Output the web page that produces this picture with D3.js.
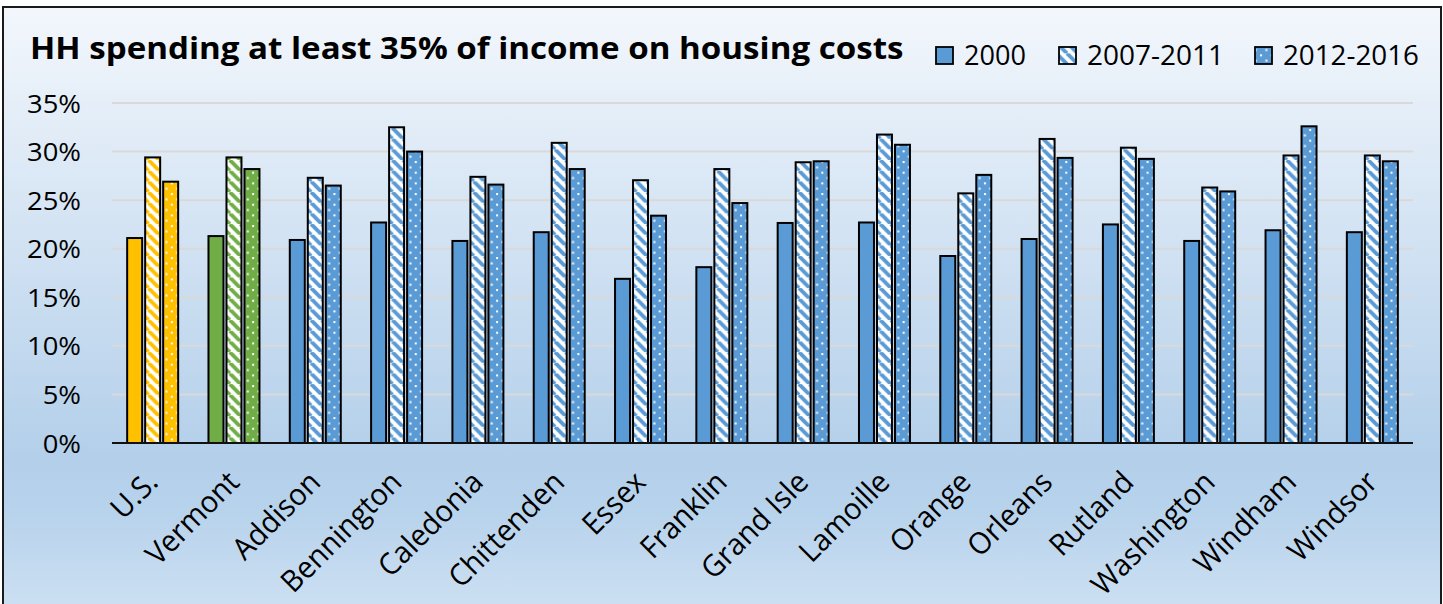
<!DOCTYPE html>
<html><head><meta charset="utf-8">
<script src="https://cdn.jsdelivr.net/npm/d3@7"></script>
<style>body{margin:0;background:#fff;} svg{display:block}</style>
</head><body>
<svg id="c" width="1443" height="604"></svg>
<script>
const categories = ["U.S.","Vermont","Addison","Bennington","Caledonia","Chittenden","Essex","Franklin","Grand Isle","Lamoille","Orange","Orleans","Rutland","Washington","Windham","Windsor"];
const seriesNames = ["2000","2007-2011","2012-2016"];
const v2000 = [21.1,21.3,20.9,22.7,20.8,21.7,16.9,18.1,22.65,22.7,19.25,21.0,22.5,20.8,21.9,21.7];
const v2007 = [29.4,29.4,27.3,32.5,27.4,30.9,27.05,28.2,28.9,31.75,25.7,31.3,30.4,26.3,29.6,29.6];
const v2012 = [26.9,28.2,26.5,30.0,26.6,28.2,23.4,24.7,29.0,30.7,27.6,29.35,29.25,25.9,32.6,29.0];
const yTicks = [0,5,10,15,20,25,30,35];
const titleText = "HH spending at least 35% of income on housing costs";

const seriesValues = [v2000, v2007, v2012];
const palette = {orange:"#FFC000", green:"#70AD47", blue:"#5B9BD5"};
const catColor = i => i === 0 ? "orange" : (i === 1 ? "green" : "blue");
const FONT = "'Open Sans', 'Noto Sans', sans-serif";

const svg = d3.select("#c");
const defs = svg.append("defs");

const grad = defs.append("linearGradient").attr("id","bg").attr("x1",0).attr("y1",0).attr("x2",0).attr("y2",1);
[[0,"#f3f7fc"],[0.74,"#b3cfea"],[0.83,"#b8d3ec"],[1,"#cfe1f3"]].forEach(s=>grad.append("stop").attr("offset",s[0]).attr("stop-color",s[1]));

const P = 10.67;
Object.entries(palette).forEach(([k,c])=>{
  const st = defs.append("pattern").attr("id","stripe-"+k).attr("patternUnits","userSpaceOnUse")
    .attr("width",P).attr("height",P);
  st.append("rect").attr("width",P).attr("height",P).attr("fill","#fff");
  st.append("path").attr("d",`M${-P},0L0,${P}M-1,-1L${P+1},${P+1}M${P},0L${2*P},${P}`)
    .attr("stroke",c).attr("stroke-width",3.9).attr("fill","none");
  const dt = defs.append("pattern").attr("id","dots-"+k).attr("patternUnits","userSpaceOnUse")
    .attr("width",P).attr("height",P);
  dt.append("rect").attr("width",P).attr("height",P).attr("fill",c);
  dt.append("rect").attr("x",1).attr("y",1).attr("width",2).attr("height",2).attr("fill","#fff");
  dt.append("rect").attr("x",1+P/2).attr("y",1+P/2).attr("width",2).attr("height",2).attr("fill","#fff");
});
const fillFor = (si, k) => si === 0 ? palette[k] : (si === 1 ? `url(#stripe-${k})` : `url(#dots-${k})`);

svg.append("rect").attr("x",3).attr("y",7).attr("width",1438).attr("height",612)
  .attr("fill","url(#bg)").attr("stroke","#1a1a1a").attr("stroke-width",2);

const x0 = d3.scaleBand(categories,[112,1413]).paddingInner(0.373).paddingOuter(0.1865);
const x1 = d3.scaleBand(seriesNames,[0,x0.bandwidth()]).paddingInner(0.167);
const y = d3.scaleLinear([0,35],[443,103]);

svg.append("g").selectAll("line").data(yTicks.filter(t=>t>0)).join("line")
  .attr("x1",112).attr("x2",1413).attr("y1",d=>y(d)).attr("y2",d=>y(d))
  .attr("stroke","#d9d9d9").attr("stroke-width",2);

const yl = svg.append("g").selectAll("text").data(yTicks).join("text")
  .attr("text-anchor","end").attr("font-family",FONT).attr("font-size",25).attr("fill","#000")
  .text(d=>d+"%");
const wRef = yl.filter(d=>d===35).node().getComputedTextLength();
const sy = 54 / wRef;
yl.attr("transform",d=>`translate(81,${y(d)+9.5}) scale(${sy},1)`);

const groups = svg.append("g").selectAll("g").data(categories).join("g")
  .attr("transform",d=>`translate(${x0(d)},0)`);
groups.each(function(cat, ci){
  const g = d3.select(this);
  seriesNames.forEach((sn, si)=>{
    const v = seriesValues[si][ci];
    g.append("rect").attr("x",x1(sn)).attr("y",y(v)).attr("width",x1.bandwidth()).attr("height",y(0)-y(v))
      .attr("fill",fillFor(si,catColor(ci))).attr("stroke","#000").attr("stroke-width",2);
  });
});

svg.append("line").attr("x1",112).attr("x2",1413).attr("y1",y(0)).attr("y2",y(0))
  .attr("stroke","#111").attr("stroke-width",2);

const xl = svg.append("g").selectAll("text").data(categories).join("text")
  .attr("text-anchor","end").attr("font-family",FONT).attr("font-size",30).attr("fill","#000")
  .text(d=>d);
const wB = xl.filter(d=>d==="Bennington").node().getComputedTextLength();
const sxl = 156 / wB;
xl.attr("transform",d=>`translate(${x0(d)+x0.bandwidth()/2+7},484) rotate(-45) scale(${sxl},1)`);

const tt = svg.append("text").attr("font-family",FONT).attr("font-weight","bold").attr("font-size",30)
  .attr("fill","#000").text(titleText);
const sT = 874 / tt.node().getComputedTextLength();
tt.attr("transform",`translate(30,59) scale(${sT},1)`);

const legX = [936, 1059, 1255];
const legW = [62, 137, 136];
const lg = svg.append("g").selectAll("g").data(seriesNames).join("g");
lg.append("rect").attr("x",(d,i)=>legX[i]).attr("y",47).attr("width",17).attr("height",17)
  .attr("fill",(d,i)=>fillFor(i,"blue")).attr("stroke","#000").attr("stroke-width",1.8);
const lt = lg.append("text").attr("font-family",FONT).attr("font-size",28).attr("fill","#000").text(d=>d);
lt.each(function(d,i){
  const w = this.getComputedTextLength();
  d3.select(this).attr("transform",`translate(${legX[i]+28},64.5) scale(${legW[i]/w},1)`);
});
</script>
</body></html>
